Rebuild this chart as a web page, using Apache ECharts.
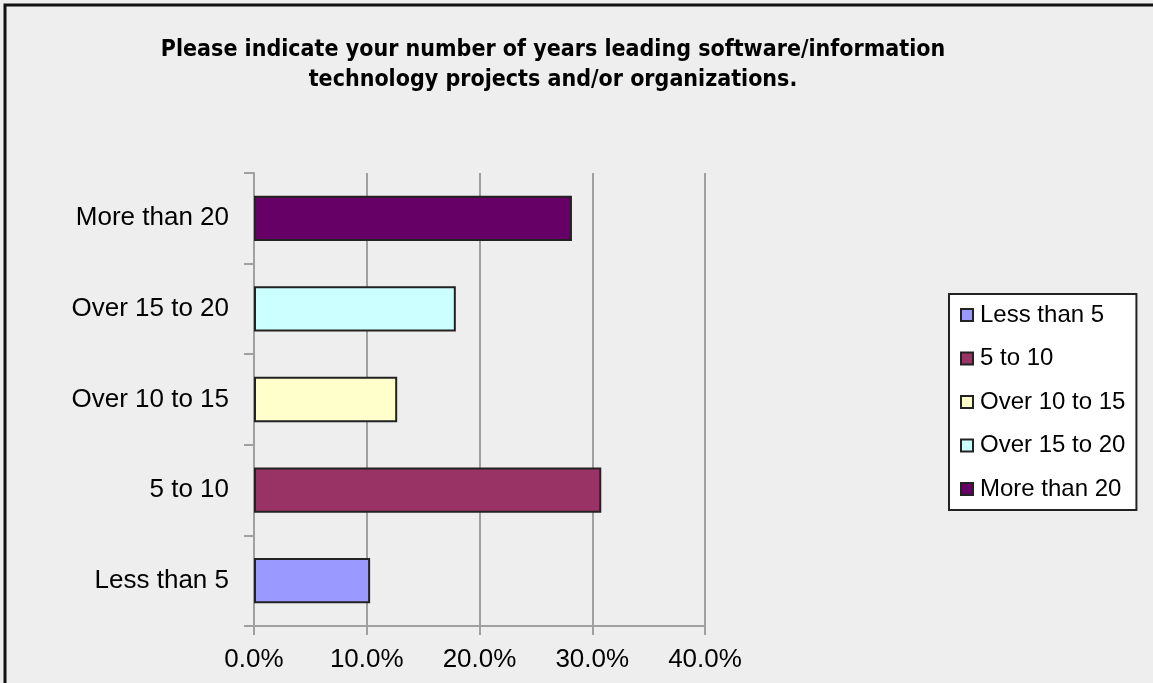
<!DOCTYPE html>
<html>
<head>
<meta charset="utf-8">
<script src="https://cdn.jsdelivr.net/npm/echarts@6/dist/echarts.min.js"></script>
<style>
html, body { margin: 0; padding: 0; background: #eeeeee; }
#main { width: 1153px; height: 683px; }
</style>
</head>
<body>
<div id="main"></div>
<script>
var categories = ['Less than 5', '5 to 10', 'Over 10 to 15', 'Over 15 to 20', 'More than 20'];
var percents = [10.3, 30.8, 12.7, 17.9, 28.2];
var colors = ['#9999ff', '#993366', '#ffffcc', '#ccffff', '#660066'];
var xTicks = [0, 10, 20, 30, 40];

var labelFont = '"Liberation Sans", Arial, sans-serif';

// one series per category so the legend lists every bar
var series = [];
for (var i = 0; i < categories.length; i++) {
	var data = [];
	for (var j = 0; j < categories.length; j++) {
		data.push(j === i ? percents[i] : '-');
	}
	series.push({
		name: categories[i],
		type: 'bar',
		stack: 'all',
		barWidth: '50%',
		data: data,
		itemStyle: {
			color: colors[i],
			borderColor: '#222',
			borderWidth: 2
		}
	});
}

var myChart = echarts.init(document.getElementById('main'));
var option = {
	backgroundColor: '#eeeeee',
	animation: false,
	title: {
		text: 'Please indicate your number of years leading software/information\ntechnology projects and/or organizations.',
		left: 548,
		top: 30,
		textAlign: 'center',
		textStyle: {
			fontFamily: '"DejaVu Sans Condensed", sans-serif',
			fontWeight: 'bold',
			fontSize: 23,
			lineHeight: 30,
			color: '#000'
		}
	},
	legend: {
		orient: 'vertical',
		left: 949,
		top: 294,
		padding: [9, 11, 9, 11],
		itemGap: 19.5,
		itemWidth: 12,
		itemHeight: 12,
		icon: 'rect',
		backgroundColor: '#ffffff',
		borderColor: '#222',
		borderWidth: 2,
		textStyle: {
			fontFamily: labelFont,
			fontSize: 24,
			color: '#000',
			padding: [0, 0, 0, 2]
		},
		data: categories
	},
	grid: {
		left: 254,
		right: 448,
		top: 173,
		bottom: 57,
		containLabel: false
	},
	xAxis: {
		type: 'value',
		min: xTicks[0],
		max: xTicks[xTicks.length - 1],
		interval: 10,
		axisLine: { show: true, lineStyle: { color: '#a0a0a0', width: 2 } },
		axisTick: { show: true, length: 9, lineStyle: { color: '#a0a0a0', width: 2 } },
		splitLine: { show: true, lineStyle: { color: '#a0a0a0', width: 2 } },
		axisLabel: {
			margin: 21,
			fontFamily: labelFont,
			fontSize: 26,
			color: '#000',
			formatter: function(v) { return v.toFixed(1) + '%'; }
		}
	},
	yAxis: {
		type: 'category',
		data: categories,
		axisLine: { show: true, lineStyle: { color: '#a0a0a0', width: 2 } },
		axisTick: { show: true, length: 10, lineStyle: { color: '#a0a0a0', width: 2 } },
		axisLabel: {
			margin: 25,
			fontFamily: labelFont,
			fontSize: 26,
			color: '#000'
		}
	},
	graphic: [{
		type: 'polyline',
		shape: { points: [[5, 690], [5, 5], [1160, 5]] },
		style: { stroke: '#111', lineWidth: 3, fill: null }
	}],
	series: series
};
myChart.setOption(option);
</script>
</body>
</html>
